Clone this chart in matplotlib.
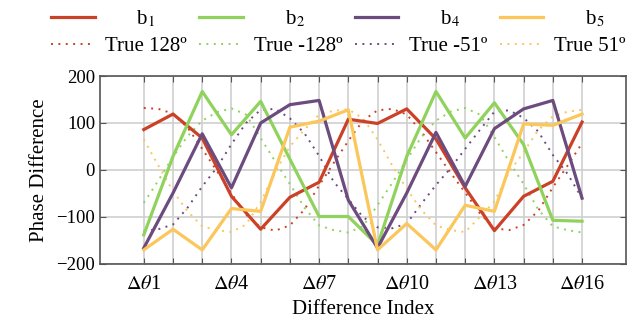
import numpy as np
import matplotlib
matplotlib.use("Agg")
import matplotlib.pyplot as plt

plt.rcParams['font.family'] = ['Liberation Serif', 'DejaVu Serif']
plt.rcParams['mathtext.fontset'] = 'stix'

# measured phase differences (solid lines), index 1..16
idx = np.arange(1, 17)
b1 = [86, 119, 68, -56, -126, -58, -26, 108, 99, 130, 66, -38, -129, -56, -24, 102]
b2 = [-138, 29, 167, 75, 146, 23, -99, -99, -160, 29, 167, 68, 143, 54, -107, -109]
b4 = [-166, -49, 77, -38, 100, 139, 148, -64, -166, -49, 80, -35, 88, 130, 148, -60]
b5 = [-170, -126, -170, -82, -88, 91, 104, 128, -170, -114, -170, -75, -88, 98, 95, 119]

# true curves (dotted), read every half index from 1 to 16
idx_fine = np.arange(1, 16.01, 0.5)
true_128 = [132, 130, 120, 90, 45, -2, -50, -95, -122, -129, -118, -84, -33, 15, 62, 105,
            127, 130, 118, 82, 38, -6, -48, -92, -124, -128, -117, -87, -37, 9, 57]
true_m128 = [-70, -22, 28, 72, 105, 123, 131, 118, 68, 18, -30, -80, -118, -128, -133, -120,
             -75, -28, 22, 70, 105, 124, 132, 118, 70, 18, -30, -84, -120, -128, -133]
true_m51 = [-130, -126, -116, -80, -35, 5, 55, 100, 128, 130, 110, 78, 30, -25, -62, -100,
            -122, -124, -114, -72, -32, 4, 45, 85, 124, 127, 111, 82, 32, -8, -60]
true_51 = [65, 9, -45, -88, -120, -128, -132, -116, -68, -4, 50, 86, 118, 126, 129, 110,
           65, 10, -40, -85, -118, -128, -132, -100, -67, -5, 38, 85, 114, 124, 128]

red = '#cb4128'
green = '#8fd25c'
purple = '#6c4b7e'
yellow = '#fbc65a'

fig = plt.figure(figsize=(6.38, 3.23), dpi=100)
ax = fig.add_axes([0.1567, 0.1827, 0.8243, 0.582])

solid = [(b1, red, 'b$_1$'), (b2, green, 'b$_2$'), (b4, purple, 'b$_4$'), (b5, yellow, 'b$_5$')]
dotted = [(true_128, red, 'True 128º'), (true_m128, green, 'True -128º'),
          (true_m51, purple, 'True -51º'), (true_51, yellow, 'True 51º')]

handles = []
labels = []
for (sv, sc, sl), (dv, dc, dl) in zip(solid, dotted):
    h2, = ax.plot(idx_fine, dv, color=dc, lw=1.4, ls=(0, (1, 2.8)), zorder=2)
    h1, = ax.plot(idx, sv, color=sc, lw=2.3, zorder=3)
    handles += [h1, h2]
    labels += ['      ' + sl, dl]

ax.set_xlim(-0.5, 17.5)
ax.set_ylim(-200, 200)
ax.set_xticks(idx)
ax.set_xticklabels([r'$\Delta\theta$' + str(i) if (i - 1) % 3 == 0 else '' for i in idx])
ax.set_yticks([-200, -100, 0, 100, 200])
ax.tick_params(axis='x', labelsize=14.5, direction='in', top=True, length=4, color='#555555', pad=8)
ax.tick_params(axis='y', labelsize=13.5, direction='in', right=True, length=4, color='#555555')
ax.grid(True, color='#cfcfcf', lw=1.2)
ax.set_axisbelow(True)
for s in ax.spines.values():
    s.set_color('#555555')
    s.set_linewidth(1.2)

ax.set_xlabel('Difference Index', fontsize=15, labelpad=4)
ax.set_ylabel('Phase Difference', fontsize=15, labelpad=5)

fig.legend(handles, labels, ncol=4, loc='center', bbox_to_anchor=(0.53, 0.9),
           frameon=False, fontsize=15, handlelength=2.1, handletextpad=0.5,
           columnspacing=0.6, labelspacing=0.35, borderpad=0)

fig.savefig('out.png', dpi=100)
